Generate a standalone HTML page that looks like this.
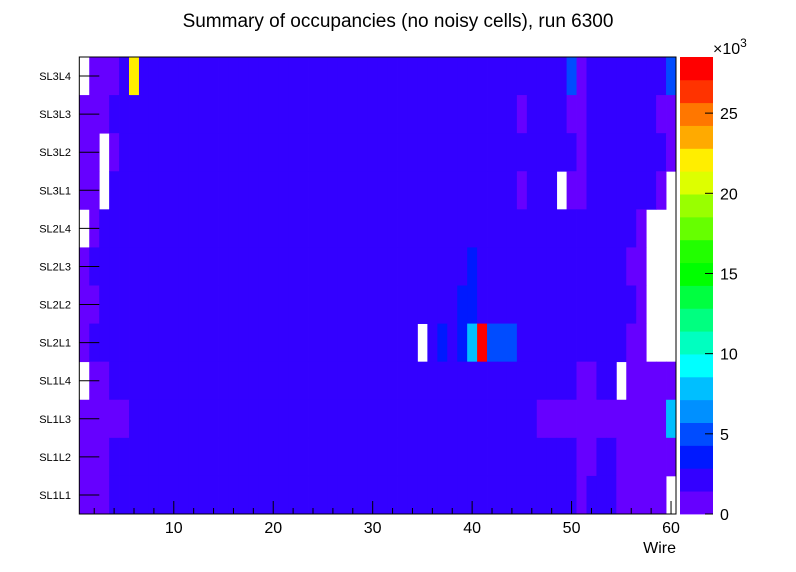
<!DOCTYPE html>
<html><head><meta charset="utf-8"><style>
body{margin:0;background:#fff;font-family:"Liberation Sans",sans-serif}
svg{display:block}
</style></head><body>
<svg id="c" width="796" height="572" xmlns="http://www.w3.org/2000/svg"></svg>
<script>
const layers=["SL3L4","SL3L3","SL3L2","SL3L1","SL2L4","SL2L3","SL2L2","SL2L1","SL1L4","SL1L3","SL1L2","SL1L1"];
const codeValues={".":0,"p":1000,"b":2500,"d":4000,"m":5000,"x":7000,"c":8000,"y":22500,"r":28000};
// each row: 60 wires (1..60)
const rowCodes=[
".pppbyb"+"b".repeat(42)+"mp"+"b".repeat(8)+"m",
"ppp"+"b".repeat(41)+"p"+"bbbb"+"pp"+"b".repeat(7)+"pp",
"pp.p"+"b".repeat(46)+"p"+"b".repeat(8)+"p",
"pp."+"b".repeat(41)+"p"+"bbb"+".pp"+"b".repeat(7)+"p.",
".p"+"b".repeat(54)+"p...",
"p"+"b".repeat(38)+"d"+"b".repeat(15)+"pp...",
"pp"+"b".repeat(36)+"dd"+"b".repeat(16)+"p...",
"p"+"b".repeat(33)+".bdbdcrmmm"+"b".repeat(11)+"pp...",
".pp"+"b".repeat(47)+"pp"+"bb"+".ppppp",
"ppppp"+"b".repeat(41)+"p".repeat(13)+"c",
"ppp"+"b".repeat(47)+"pp"+"bb"+"pppppp",
"ppp"+"b".repeat(47)+"p"+"bbb"+"ppppp."
];
const xTicks=[10,20,30,40,50,60];
const zTicks=[0,5,10,15,20,25];
const palette=["#6600ff","#3300ff","#0019ff","#004cff","#0090ff","#00bfff","#00ffff","#00ffc0","#00ff80","#00ff40","#00ff00","#22ff00","#66ff00","#99ff00","#ddff00","#ffee00","#ffaa00","#ff7700","#ff3300","#ff0000"];
const zMax=28500;
const X0=79.3,X1=676,Y0=57,Y1=514;
const xs=w=>X0+(w-0.5)*(X1-X0)/60;
const ys=r=>Y0+r*(Y1-Y0)/12;
const zs=v=>Y1-v/zMax*(Y1-Y0);
const NS="http://www.w3.org/2000/svg";
const svg=document.getElementById("c");
function mk(t,a){const e=document.createElementNS(NS,t);for(const k in a)e.setAttribute(k,a[k]);svg.appendChild(e);return e;}
function col(v){let i=Math.floor(v/(zMax/20));if(i>19)i=19;return palette[i];}
rowCodes.forEach((s,r)=>{for(let w=1;w<=60;w++){const v=codeValues[s[w-1]];if(!v)continue;
const e=mk("rect",{x:xs(w-0.5),y:ys(r),width:xs(w+0.5)-xs(w-0.5)+0.4,height:ys(r+1)-ys(r)+0.4,fill:col(v)});

}});
// frame
let f=mk("rect",{x:X0,y:Y0,width:X1-X0,height:Y1-Y0,fill:"none",stroke:"#000","stroke-width":1});

// y axis
layers.forEach((l,r)=>{const y=(ys(r)+ys(r+1))/2;
mk("line",{x1:X0,x2:X0+20,y1:y,y2:y,stroke:"#000"});
const t=mk("text",{x:71,y:y+4,"font-size":11,"text-anchor":"end"});t.textContent=l;
});
// x axis ticks
for(let w=2;w<=60;w+=2){mk("line",{x1:xs(w),x2:xs(w),y1:Y1,y2:Y1-(w%10==0?13:6),stroke:"#000"});}
xTicks.forEach(w=>{const t=mk("text",{x:xs(w),y:533,"font-size":16,"text-anchor":"middle"});t.textContent=w;
});
let t=mk("text",{x:676,y:553,"font-size":16,"text-anchor":"end"});t.textContent="Wire";

t=mk("text",{x:398,y:27,"font-size":19,"text-anchor":"middle"});t.textContent="Summary of occupancies (no noisy cells), run 6300";

// palette
palette.forEach((c,i)=>{const e=mk("rect",{x:680,y:zs((i+1)*zMax/20),width:33,height:zs(i*zMax/20)-zs((i+1)*zMax/20)+0.4,fill:c});
});
zTicks.forEach(z=>{const y=zs(z*1000);mk("line",{x1:705,x2:713,y1:y,y2:y,stroke:"#000"});
const e=mk("text",{x:720,y:y+6,"font-size":16});e.textContent=z;
});
t=mk("text",{x:713,y:54,"font-size":16});t.innerHTML='×10<tspan font-size="12" dy="-7">3</tspan>';

</script>
</body></html>
